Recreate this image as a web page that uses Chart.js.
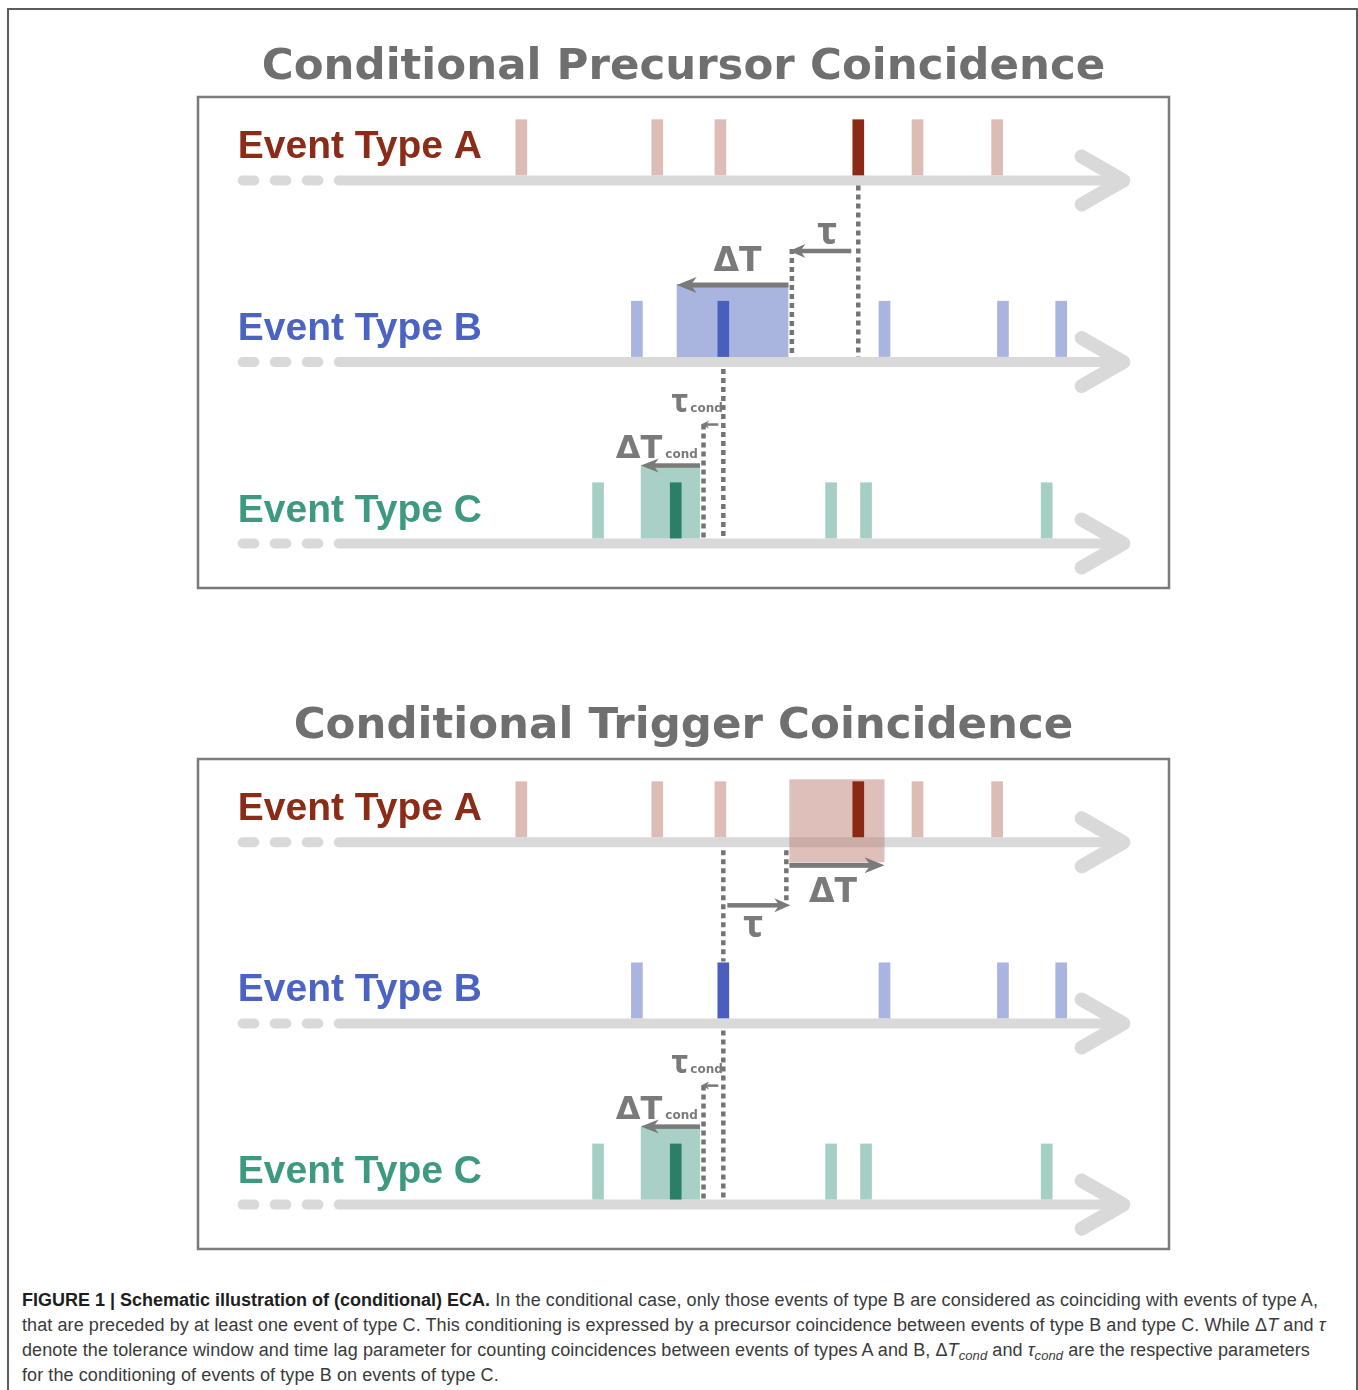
<!DOCTYPE html>
<html>
<head>
<meta charset="utf-8">
<script src="https://cdn.jsdelivr.net/npm/chart.js@4.4.1/dist/chart.umd.min.js"></script>
<style>
  body { margin: 0; background: #fff; }
  #page { position: relative; width: 1358px; height: 1390px; overflow: hidden; }
  #frame { position: absolute; left: 7px; top: 8px; width: 1347px; height: 1420px; border: 2px solid #5c5c5c; border-bottom: none; }
  canvas { position: absolute; left: 0; }
  #caption { position: absolute; left: 22px; top: 1288px; font: 18px "Liberation Sans", Arial, sans-serif; line-height: 25px; color: #3a3a3a; white-space: nowrap; letter-spacing: 0.09px; }
  #caption b { color: #1e1e1e; letter-spacing: 0; }
  #caption sub { font-size: 13px; vertical-align: -4px; line-height: 0; }
</style>
</head>
<body>
<div id="page">
  <div id="frame"></div>
  <canvas id="precursor" width="1358" height="640" style="top:0"></canvas>
  <canvas id="trigger" width="1358" height="630" style="top:640px"></canvas>
  <div id="caption">
    <b>FIGURE 1 | Schematic illustration of (conditional) ECA.</b> In the conditional case, only those events of type B are considered as coinciding with events of type A,<br>
    that are preceded by at least one event of type C. This conditioning is expressed by a precursor coincidence between events of type B and type C. While Δ<i>T</i> and <i>τ</i><br>
    denote the tolerance window and time lag parameter for counting coincidences between events of types A and B, Δ<i>T<sub>cond</sub></i> and <i>τ<sub>cond</sub></i> are the respective parameters<br>
    for the conditioning of events of type B on events of type C.
  </div>
</div>
<script>
// event times (arbitrary time units, 0..100 across the box)
var rowLabels = ['Event Type A', 'Event Type B', 'Event Type C'];
var eventsA = [33.3, 47.3, 53.8, 68.0, 74.1, 82.3];
var eventsB = [45.2, 54.1, 70.7, 82.9, 88.9];
var eventsC = [41.2, 49.2, 65.2, 68.8, 87.4];
var keyA = 68.0, keyB = 54.1, keyC = 49.2;
// window / lag parameters
var precursorTau = 7.2, precursorDT = 11.5;
var triggerTau = 6.8, triggerDT = 9.8;
var condTau = 2.4, condDT = 6.1;
var panelTitles = ['Conditional Precursor Coincidence', 'Conditional Trigger Coincidence'];

var dark = ['#8a2a16', '#4a5fbd', '#2b7f66'];
var light = ['#dcbcb5', '#aab4e0', '#a5cfc4'];
var labelColors = ['#8a2c17', '#4b63c1', '#3d9a80'];
var GREY_AXIS = '#d9d9d9', ARROW = '#7a7a7a', DOTS = '#747474';

function font(s, fam) { return 'bold ' + s + 'px ' + (fam || '"DejaVu Sans"'); }

function arrow(ctx, x1, y, x2, w, L, h) {
  var d = Math.sign(x2 - x1);
  var back = x2 - d * L * 0.65;
  ctx.fillStyle = ARROW;
  ctx.fillRect(Math.min(x1, back), y - w / 2, Math.abs(back - x1), w);
  ctx.beginPath();
  ctx.moveTo(x2, y);
  ctx.lineTo(x2 - d * L, y - h);
  ctx.lineTo(x2 - d * L * 0.7, y);
  ctx.lineTo(x2 - d * L, y + h);
  ctx.closePath();
  ctx.fill();
}

function dotted(ctx, x, y1, y2) {
  ctx.save();
  ctx.strokeStyle = DOTS;
  ctx.lineWidth = 4.5;
  ctx.setLineDash([5, 4]);
  ctx.beginPath();
  ctx.moveTo(x, y1);
  ctx.lineTo(x, y2);
  ctx.stroke();
  ctx.restore();
}

function label(ctx, txt, x, y, size, align, sub, fam) {
  ctx.fillStyle = ARROW;
  ctx.font = font(size, fam);
  ctx.textAlign = align || 'left';
  ctx.textBaseline = 'alphabetic';
  ctx.fillText(txt, x, y);
  if (sub) {
    var w = ctx.measureText(txt).width;
    var left = align === 'center' ? x + w / 2 : x + w;
    ctx.font = font(12);
    ctx.textAlign = 'left';
    ctx.fillText(sub, left + 3, y);
  }
}

var TAU_FONT = '"Noto Sans"';

var scheme = {
  id: 'scheme',
  beforeDatasetsDraw: function(chart, args, opts) {
    var ctx = chart.ctx, xs = chart.scales.x, ys = chart.scales.y;
    var X = function(v) { return xs.getPixelForValue(v); };
    ctx.save();
    // time axes
    for (var r = 0; r < 3; r++) {
      var y = ys.getPixelForValue(r);
      ctx.strokeStyle = GREY_AXIS;
      ctx.lineCap = 'round';
      ctx.lineJoin = 'round';
      ctx.lineWidth = 10;
      [[4.6, 5.8], [7.9, 9.1], [11.2, 12.4], [14.5, 95.3]].forEach(function(s) {
        ctx.beginPath(); ctx.moveTo(X(s[0]), y); ctx.lineTo(X(s[1]), y); ctx.stroke();
      });
      ctx.lineWidth = 14;
      ctx.beginPath();
      ctx.moveTo(X(91.0), y - 24); ctx.lineTo(X(95.3), y); ctx.lineTo(X(91.0), y + 24);
      ctx.stroke();
      ctx.fillStyle = labelColors[r];
      ctx.font = 'bold 39px "Liberation Sans", Arial, sans-serif';
      ctx.textAlign = 'left';
      ctx.textBaseline = 'alphabetic';
      ctx.fillText(rowLabels[r], X(4.1), y - 22);
    }
    // tolerance windows
    var yA = ys.getPixelForValue(0), yB = ys.getPixelForValue(1), yC = ys.getPixelForValue(2);
    if (opts.mode === 'precursor') {
      var wEnd = X(keyA - precursorTau), wStart = X(keyA - precursorTau - precursorDT);
      ctx.fillStyle = '#aab5df';
      ctx.fillRect(wStart, yB - 78, wEnd - wStart, 73);
    } else {
      var tStart = X(keyB + triggerTau), tEnd = X(keyB + triggerTau + triggerDT);
      ctx.fillStyle = 'rgba(190,128,116,0.5)';
      ctx.fillRect(tStart, yA - 63, tEnd - tStart, 83);
    }
    var cEnd = X(keyB - condTau), cStart = X(keyB - condTau - condDT);
    ctx.fillStyle = '#a8d0c6';
    ctx.fillRect(cStart, yC - 78, cEnd - cStart, 73);
    ctx.restore();
  },
  afterDatasetsDraw: function(chart, args, opts) {
    var ctx = chart.ctx, xs = chart.scales.x, ys = chart.scales.y, ca = chart.chartArea;
    var X = function(v) { return xs.getPixelForValue(v); };
    var yA = ys.getPixelForValue(0), yB = ys.getPixelForValue(1), yC = ys.getPixelForValue(2);
    var aX = X(keyA), bX = X(keyB);
    ctx.save();
    if (opts.mode === 'precursor') {
      var wEnd = X(keyA - precursorTau), wStart = X(keyA - precursorTau - precursorDT);
      dotted(ctx, aX, yA + 5, yB - 5);
      dotted(ctx, wEnd + 3.5, yB - 113, yB - 5);
      arrow(ctx, aX - 7, yB - 111, wEnd + 1, 4.5, 16, 7);
      label(ctx, 'τ', (aX + wEnd) / 2 + 4, yB - 118, 38, 'center', null, TAU_FONT);
      arrow(ctx, wEnd, yB - 77, wStart, 5, 20, 8);
      label(ctx, 'ΔT', (wStart + wEnd) / 2 + 5, yB - 91, 33, 'center');
      dotted(ctx, bX, yB + 7, yC - 5);
    } else {
      var tStart = X(keyB + triggerTau), tEnd = X(keyB + triggerTau + triggerDT);
      dotted(ctx, bX, yA + 8, yB - 62);
      dotted(ctx, tStart - 3, yA + 8, yA + 60);
      arrow(ctx, bX + 4, yA + 63, tStart + 1, 4.5, 16, 7);
      label(ctx, 'τ', (bX + tStart) / 2 - 3, yA + 95, 38, 'center', null, TAU_FONT);
      arrow(ctx, tStart, yA + 23, tEnd, 5, 20, 8);
      label(ctx, 'ΔT', (tStart + tEnd) / 2 - 4, yA + 60, 33, 'center');
      dotted(ctx, bX, yB + 7, yC - 5);
    }
    // conditioning B on C
    var cEnd = X(keyB - condTau), cStart = X(keyB - condTau - condDT);
    dotted(ctx, cEnd + 3.5, yC - 119, yC - 5);
    arrow(ctx, bX - 5, yC - 119, cEnd + 1, 2.5, 8, 4);
    ctx.fillStyle = ARROW;
    ctx.font = font(32, TAU_FONT);
    ctx.textAlign = 'left';
    ctx.fillText('τ', bX - 52, yC - 132);
    ctx.font = font(12);
    ctx.fillText('cond', bX - 33, yC - 132);
    label(ctx, 'ΔT', cStart - 25, yC - 86, 32, 'left', 'cond');
    arrow(ctx, cEnd, yC - 78, cStart, 4.5, 18, 7);
    // panel box
    ctx.strokeStyle = '#7a7a7a';
    ctx.lineWidth = 2.5;
    ctx.strokeRect(ca.left, ca.top, ca.right - ca.left, ca.bottom - ca.top);
    ctx.restore();
  }
};

function eventDatasets() {
  return [[eventsA, keyA], [eventsB, keyB], [eventsC, keyC]].map(function(e, r) {
    return {
      data: e[0].map(function(t) { return {x: t, y: [r - 0.03, r - 0.335]}; }),
      backgroundColor: e[0].map(function(t) { return t === e[1] ? dark[r] : light[r]; }),
      barThickness: 11,
      grouped: false,
      borderWidth: 0
    };
  });
}

function makePanel(id, title, mode, padTop, padBottom, bottom) {
  return new Chart(document.getElementById(id), {
    type: 'bar',
    data: { datasets: eventDatasets() },
    options: {
      responsive: false,
      animation: false,
      events: [],
      layout: { padding: { left: 198, right: 189, top: 0, bottom: bottom } },
      plugins: {
        legend: { display: false },
        tooltip: { enabled: false },
        title: {
          display: true,
          text: title,
          color: '#6f6f6f',
          font: { family: 'DejaVu Sans', size: 43.5, weight: 'bold', lineHeight: 1.2 },
          padding: { top: padTop, bottom: padBottom }
        },
        scheme: { mode: mode }
      },
      scales: {
        x: { type: 'linear', min: 0, max: 100, offset: false, display: false },
        y: { type: 'linear', min: -0.46, max: 2.245, reverse: true, display: false }
      }
    },
    plugins: [scheme]
  });
}

makePanel('precursor', panelTitles[0], 'precursor', 42, 2.8, 52);
makePanel('trigger', panelTitles[1], 'trigger', 60.5, 6.3, 21);
</script>
</body>
</html>
